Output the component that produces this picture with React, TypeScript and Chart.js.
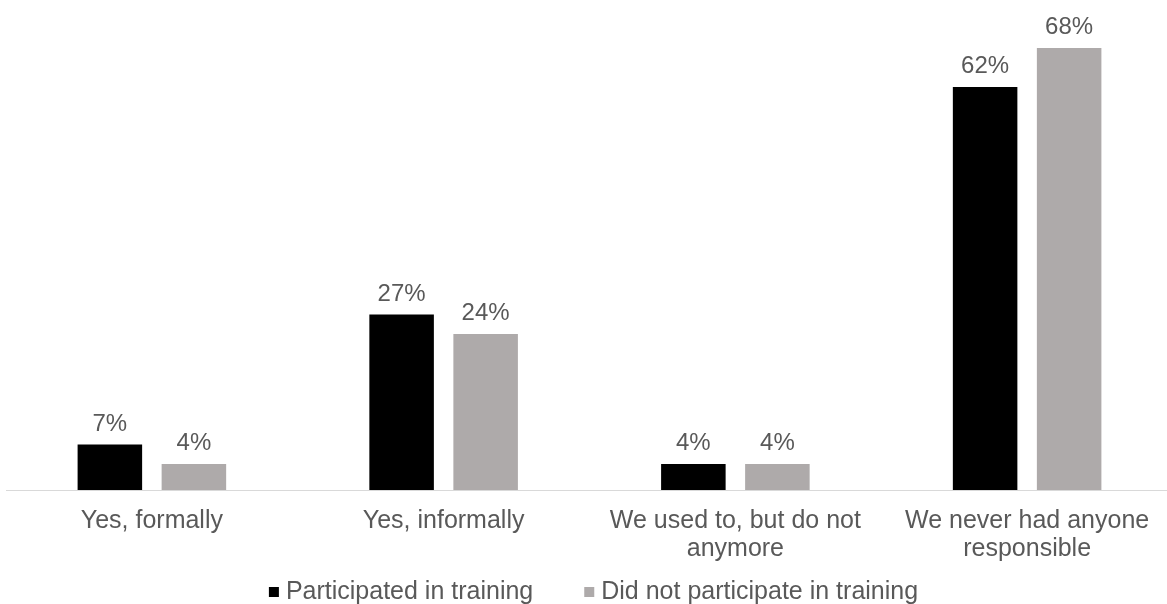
import React, { useEffect, useRef } from "react";
import { Chart, registerables } from "chart.js";

Chart.register(...registerables);

const categories: (string | string[])[] = [
  "Yes, formally",
  "Yes, informally",
  ["We used to, but do not", "anymore"],
  ["We never had anyone", "responsible"],
];
const participated = [7, 27, 4, 62];
const notParticipated = [4, 24, 4, 68];
const seriesNames = ["Participated in training", "Did not participate in training"];
const seriesColors = ["#000000", "#AEAAAA"];

const FONT = "'Liberation Sans', Arial, sans-serif";
const TEXT = "#595959";

const dataLabelPlugin = {
  id: "dataLabels",
  afterDatasetsDraw(chart: any) {
    const ctx = chart.ctx;
    ctx.save();
    ctx.font = `24px ${FONT}`;
    ctx.fillStyle = TEXT;
    ctx.textAlign = "center";
    ctx.textBaseline = "alphabetic";
    chart.data.datasets.forEach((ds: any, i: number) => {
      const meta = chart.getDatasetMeta(i);
      meta.data.forEach((el: any, j: number) => {
        ctx.fillText(`${ds.data[j]}%`, el.x, el.y - 14);
      });
    });
    ctx.restore();
  },
};

const customLegendPlugin = {
  id: "customLegend",
  afterDraw(chart: any) {
    const ctx = chart.ctx;
    ctx.save();
    ctx.font = `25px ${FONT}`;
    ctx.textBaseline = "middle";
    ctx.textAlign = "left";
    const box = 10;
    const gapText = 7;
    const gapItem = 51;
    const items = chart.data.datasets.map((ds: any) => ({
      label: ds.label,
      color: ds.backgroundColor,
      w: ctx.measureText(ds.label).width,
    }));
    const total =
      items.reduce((s: number, it: any) => s + box + gapText + it.w, 0) +
      gapItem * (items.length - 1);
    const centerX = 593.5;
    const cy = 592;
    let x = centerX - total / 2;
    items.forEach((it: any) => {
      ctx.fillStyle = it.color;
      ctx.fillRect(x, cy - box / 2, box, box);
      x += box + gapText;
      ctx.fillStyle = TEXT;
      ctx.fillText(it.label, x, cy);
      x += it.w + gapItem;
    });
    ctx.restore();
  },
};

export default function App() {
  const ref = useRef<HTMLCanvasElement | null>(null);
  useEffect(() => {
    if (!ref.current) return;
    const chart = new Chart(ref.current, {
      type: "bar",
      data: {
        labels: categories,
        datasets: [
          {
            label: seriesNames[0],
            data: participated,
            backgroundColor: seriesColors[0],
            borderWidth: 0,
            categoryPercentage: 0.576,
            barPercentage: 0.768,
          },
          {
            label: seriesNames[1],
            data: notParticipated,
            backgroundColor: seriesColors[1],
            borderWidth: 0,
            categoryPercentage: 0.576,
            barPercentage: 0.768,
          },
        ],
      },
      options: {
        responsive: false,
        animation: false,
        devicePixelRatio: 1,
        layout: { padding: { left: 6, right: 7, top: 35, bottom: 40 } },
        plugins: {
          tooltip: { enabled: false },
          legend: { display: false },
        },
        scales: {
          x: {
            grid: { display: false, drawTicks: false },
            border: { display: true, color: "#D9D9D9", width: 1 },
            ticks: {
              color: TEXT,
              font: { family: FONT, size: 25, lineHeight: 1.12 },
              padding: 17,
              maxRotation: 0,
              autoSkip: false,
            },
            afterFit: (scale: any) => {
              scale.height = 74;
            },
          },
          y: {
            display: false,
            min: 0,
            max: 70,
          },
        },
      },
      plugins: [dataLabelPlugin, customLegendPlugin],
    });
    return () => chart.destroy();
  }, []);
  return (
    <div
      style={{
        position: "fixed",
        left: 0,
        top: 0,
        width: 1167,
        height: 604,
        overflow: "hidden",
        background: "#ffffff",
      }}
    >
      <canvas ref={ref} width={1180} height={604} style={{ display: "block" }} />
    </div>
  );
}
